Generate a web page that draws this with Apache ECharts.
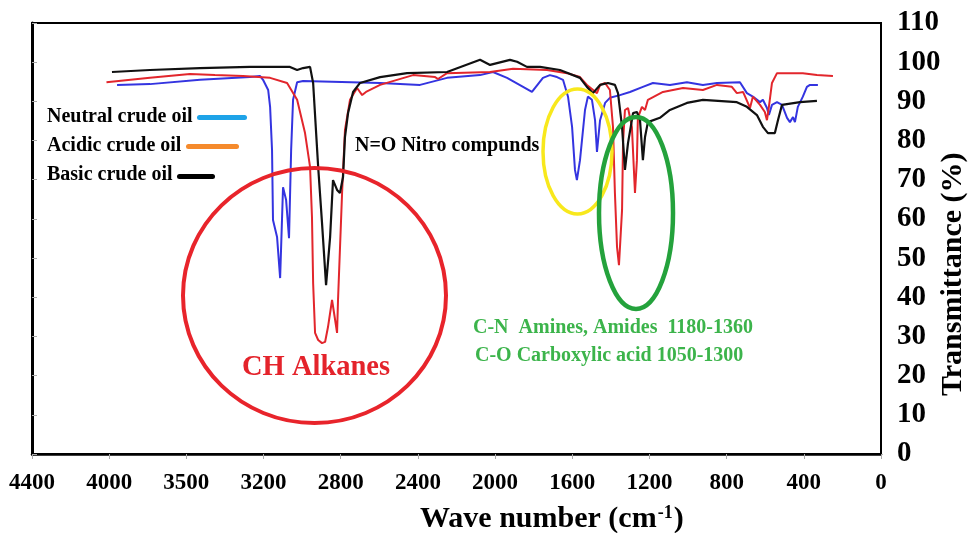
<!DOCTYPE html>
<html><head><meta charset="utf-8">
<script src="https://cdn.jsdelivr.net/npm/echarts@6/dist/echarts.min.js"></script>
<style>html,body{margin:0;padding:0;background:#fff}#c{width:971px;height:533px}</style>
</head><body><div id="c"></div>
<script>
// x-axis tick values (cm-1) shown at evenly spaced positions
const tickValues = [4400,4000,3500,3200,2800,2400,2000,1600,1200,800,400,0];
const tickLabels = ['4400','4000','3500','3200','2800','2400','2000','1600','1200','800','400','0'];
const yMin = 0, yMax = 110, yStep = 10;

const seriesNames = ['Neutral crude oil','Acidic crude oil','Basic crude oil'];

// Neutral crude oil (blue trace)
const neutralWn = [3949,3736,3447,3253,3214,3202,3176,3166,3156,3151,3130,3114,3099,3083,3068,3057,3047,3026,2995,2596,2389,2249,2078,2011,1938,1855,1809,1752,1716,1679,1648,1622,1601,1586,1576,1560,1534,1519,1498,1482,1472,1456,1430,1405,1353,1301,1234,1182,1094,1006,923,850,731,695,664,627,612,591,581,565,539,513,487,472,456,446,431,405,384,368,327];
const neutralT  = [94.2,94.4,95.5,96.2,96.5,95.5,92.9,88.6,77.6,59.7,55.4,44.9,68.1,64.8,55.1,77.6,90.4,94.9,95.2,94.7,94.2,96.0,96.7,97.5,96.0,93.7,92.4,96.0,96.7,96.2,95.5,91.2,83.5,72.5,69.9,75.0,87.8,91.2,90.4,85.2,77.1,85.2,89.6,90.9,91.6,92.4,93.7,94.7,94.2,94.9,94.2,94.7,94.9,92.1,91.2,89.8,90.4,88.3,86.5,89.1,89.8,89.1,85.8,84.7,86.0,84.7,88.6,91.2,93.7,94.2,94.2];

// Acidic crude oil (red trace)
const acidicWn = [4014,3736,3486,3389,3280,3166,3078,3026,2985,2959,2949,2943,2933,2917,2897,2881,2866,2845,2829,2819,2814,2793,2778,2752,2715,2689,2669,2596,2425,2311,2296,2249,2026,1907,1731,1627,1560,1524,1472,1456,1430,1405,1389,1379,1368,1358,1342,1337,1327,1311,1291,1275,1265,1260,1239,1223,1208,1130,1026,923,850,773,747,715,690,679,664,627,602,591,581,565,539,405,332,249];
const acidicT  = [94.9,96.0,97.0,96.7,96.5,96.0,94.7,90.4,81.9,73.3,60.5,43.6,30.9,29.1,28.3,28.6,32.4,39.3,34.2,30.9,39.3,66.6,82.7,90.4,93.4,91.6,92.4,94.2,96.7,96.2,95.7,97.2,97.5,98.3,98.0,97.2,96.2,94.2,92.1,94.2,94.7,92.9,83.5,66.6,52.8,48.2,62.3,79.4,87.8,88.3,83.5,66.6,75.0,85.8,88.6,87.8,90.4,92.4,93.4,92.9,94.2,93.7,92.1,92.4,89.6,88.3,91.2,89.1,87.3,85.2,88.6,94.7,97.2,97.2,96.7,96.5];

// Basic crude oil (black trace)
const basicWn = [3982,3736,3447,3253,3063,3026,2995,2959,2943,2917,2897,2876,2855,2840,2819,2804,2788,2778,2762,2736,2700,2596,2456,2249,2078,2026,1923,1886,1835,1767,1664,1560,1524,1493,1456,1415,1379,1363,1342,1327,1311,1285,1265,1249,1234,1223,1208,1146,1094,1006,923,747,695,643,612,586,550,534,513,420,332];
const basicT  = [97.5,98.0,98.5,98.8,98.8,98.0,98.5,98.8,94.7,73.3,59.0,43.1,55.4,69.9,67.4,66.6,70.7,80.9,87.0,92.4,94.7,96.2,97.2,97.5,100.6,99.3,100.6,100.1,98.8,98.8,98.0,96.0,93.7,92.1,94.2,94.7,94.2,92.1,83.5,72.5,79.4,87.0,87.3,85.2,75.0,80.9,84.7,85.8,87.8,89.6,90.4,89.8,88.6,86.5,83.5,81.9,81.9,85.2,89.1,89.8,90.1];

const lineColors = ['#3434e0','#e2262c','#111111'];
const legendColors = ['#1ea3e8','#f58a2c','#000000'];

// piecewise mapping of wavenumber onto the evenly spaced tick positions
function toPos(wn){
  for (let i = 0; i < tickValues.length - 1; i++) {
    const a = tickValues[i], b = tickValues[i+1];
    if (wn <= a && wn >= b) return i + (a - wn) / (a - b);
  }
  return wn > tickValues[0] ? (tickValues[0] - wn) / 400 : tickValues.length - 1;
}
function build(wn, t){ return wn.map((w, i) => [toPos(w), t[i]]); }

const serifBold = {fontFamily:'Liberation Serif', fontWeight:'bold', color:'#000'};
const chart = echarts.init(document.getElementById('c'), null, {renderer:'canvas'});

const legendY = [118, 147, 176];
const legendGraphics = [];
seriesNames.forEach((n, i) => {
  legendGraphics.push({type:'text', left:47, top:legendY[i]-11, style:{text:n, font:'bold 20px "Liberation Serif"', fill:'#000'}});
});

chart.setOption({
  animation:false,
  backgroundColor:'#fff',
  grid:{left:32, right:90, top:23, bottom:79, show:true, borderColor:'#000', borderWidth:2},
  xAxis:{type:'value', min:0, max:tickLabels.length-1, interval:1,
    axisLine:{show:true, onZero:false, lineStyle:{color:'#000', width:2.5}},
    axisTick:{show:true, length:5, lineStyle:{color:'#aaa'}},
    splitLine:{show:false},
    axisLabel:Object.assign({formatter:v => tickLabels[Math.round(v)], fontSize:23, margin:18, showMinLabel:true, showMaxLabel:true}, serifBold)},
  yAxis:{type:'value', position:'right', min:yMin, max:yMax, interval:yStep,
    axisLine:{show:true, lineStyle:{color:'#000', width:3}},
    axisTick:{show:true, length:5, lineStyle:{color:'#aaa'}},
    splitLine:{show:false},
    axisLabel:Object.assign({fontSize:29, margin:16}, serifBold)},
  series:[
    {name:seriesNames[0], type:'line', showSymbol:false, data:build(neutralWn, neutralT), lineStyle:{width:2, color:lineColors[0]}, itemStyle:{color:lineColors[0]}, z:2},
    {name:seriesNames[1], type:'line', showSymbol:false, data:build(acidicWn, acidicT), lineStyle:{width:2, color:lineColors[1]}, itemStyle:{color:lineColors[1]}, z:3},
    {name:seriesNames[2], type:'line', showSymbol:false, data:build(basicWn, basicT), lineStyle:{width:2.2, color:lineColors[2]}, itemStyle:{color:lineColors[2]}, z:4}
  ],
  graphic:[].concat(legendGraphics, [
    {type:'rect', shape:{x:197, y:115, width:50, height:5, r:2.5}, style:{fill:legendColors[0]}},
    {type:'rect', shape:{x:186, y:144, width:53, height:5, r:2.5}, style:{fill:legendColors[1]}},
    {type:'rect', shape:{x:177, y:174, width:38, height:5, r:2.5}, style:{fill:legendColors[2]}},
    {type:'ellipse', shape:{cx:314.5, cy:295.5, rx:131.5, ry:127.5}, style:{fill:'none', stroke:'#e8242b', lineWidth:4}, z:10},
    {type:'ellipse', shape:{cx:577.5, cy:151.5, rx:34.5, ry:62.5}, style:{fill:'none', stroke:'#f8e81c', lineWidth:3.5}, z:10},
    {type:'ellipse', shape:{cx:636, cy:213, rx:37, ry:96}, style:{fill:'none', stroke:'#24a23c', lineWidth:4.5}, z:10},
    {type:'text', left:242, top:353, style:{text:'CH Alkanes', font:'bold 28.5px "Liberation Serif"', fill:'#e4232b'}, z:11},
    {type:'text', left:355, top:136, style:{text:'N=O Nitro compunds', font:'bold 20px "Liberation Serif"', fill:'#000'}, z:11},
    {type:'text', left:473, top:318, style:{text:'C-N  Amines, Amides  1180-1360', font:'bold 20px "Liberation Serif"', fill:'#3cb44b'}, z:11},
    {type:'text', left:475, top:346, style:{text:'C-O Carboxylic acid 1050-1300', font:'bold 20px "Liberation Serif"', fill:'#3cb44b'}, z:11},
    {type:'text', left:420, top:504, style:{text:'{m|Wave number (cm}{s|-1}{m|)}', rich:{m:{font:'bold 30px "Liberation Serif"', fill:'#000'}, s:{font:'bold 18px "Liberation Serif"', fill:'#000', verticalAlign:'top', padding:[0,1,12,1]}}}, z:11},
    {type:'text', x:938, y:396, rotation:Math.PI/2, style:{text:'Transmittance (%)', font:'bold 30px "Liberation Serif"', fill:'#000', align:'left', verticalAlign:'top'}, z:11}
  ])
});
</script></body></html>
